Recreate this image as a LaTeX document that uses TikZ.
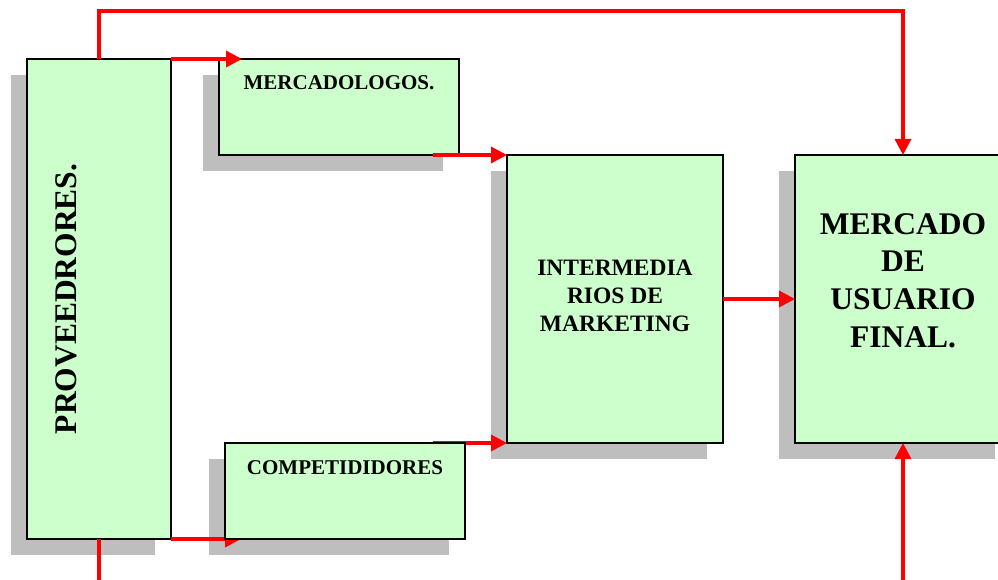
\documentclass[tikz,border=0pt]{standalone}
\usepackage{fontspec}
\setmainfont{Liberation Serif}
\usetikzlibrary{shadows,arrows.meta,calc}
\definecolor{boxgreen}{HTML}{CCFFCC}
\definecolor{shadowgray}{HTML}{BEBEBE}
\definecolor{arrowred}{HTML}{FF0000}
\tikzset{
  boxplain/.style={draw=black, line width=1.8pt, fill=boxgreen, inner sep=0pt, outer sep=0pt, anchor=north west},
  box/.style={boxplain, drop shadow={shadow xshift=-16pt, shadow yshift=-16pt, fill=shadowgray, opacity=1}},
  flow/.style={draw=arrowred, line width=3.4pt, -{Triangle[length=16pt,width=16pt]}},
  flowline/.style={draw=arrowred, line width=3.4pt},
  lbl/.style={inner sep=0pt, font=\bfseries, align=center}
}
\begin{document}
\begin{tikzpicture}[x=1pt,y=-1pt]
\useasboundingbox (0,0) rectangle (998,580);
\clip (0,0) rectangle (998,580);
% boxes
\node[box, minimum width=144pt, minimum height=480pt] (prov) at (27,59) {};
\node[box, minimum width=240pt, minimum height=96pt] (merc) at (219,59) {};
\node[box, minimum width=216pt, minimum height=288pt] (inter) at (507,155) {};
\node[box, minimum width=216pt, minimum height=288pt] (mkt) at (795,155) {};
% shadow of competidores drawn directly
\fill[shadowgray] (209,459) rectangle (449,555);
% connectors partly under competidores
\draw[flow] (prov.south east) -- ++(70,0) coordinate (combot);
\draw[flow] ($(inter.south west)+(-74,0)$) coordinate (compstart) -- (inter.south west);
\node[boxplain, minimum width=240pt, minimum height=96pt] (comp) at (225,443) {};
% other connectors
\draw[flow] (prov.north) -- ++(0,-48) -| (mkt.north);
\draw[flow] (prov.north east) -- ++(71,0) coordinate (mercin);
\draw[flow] ($(merc.south east)+(-26,0)$) coordinate (mercout) -- (inter.north west);
\draw[flow] (inter.east) -- (mkt.west);
\draw[flowline] (prov.south) -- ++(0,45) coordinate (provbot);
\draw[flow] ($(mkt.south)+(0,140)$) coordinate (mktbot) -- (mkt.south);
% labels
\node[lbl, font=\bfseries\fontsize{31.5}{37}\selectfont, rotate=90] (provtxt) at (66,299) {PROVEEDRORES.};
\node[lbl, font=\bfseries\fontsize{21}{25}\selectfont, anchor=base] (merctxt) at (339,90) {MERCADOLOGOS.};
\node[lbl, font=\bfseries\fontsize{21}{25}\selectfont, anchor=base] (comptxt) at (345,474) {COMPETIDIDORES};
\node[lbl, font=\bfseries\fontsize{23.5}{28}\selectfont, anchor=north] (intertxt) at (615,260) {INTERMEDIA\\RIOS DE\\MARKETING};
\node[lbl, font=\bfseries\fontsize{31.5}{37.7}\selectfont, anchor=north] (mkttxt) at (903,213) {MERCADO\\DE\\USUARIO\\FINAL.};
\end{tikzpicture}
\end{document}
